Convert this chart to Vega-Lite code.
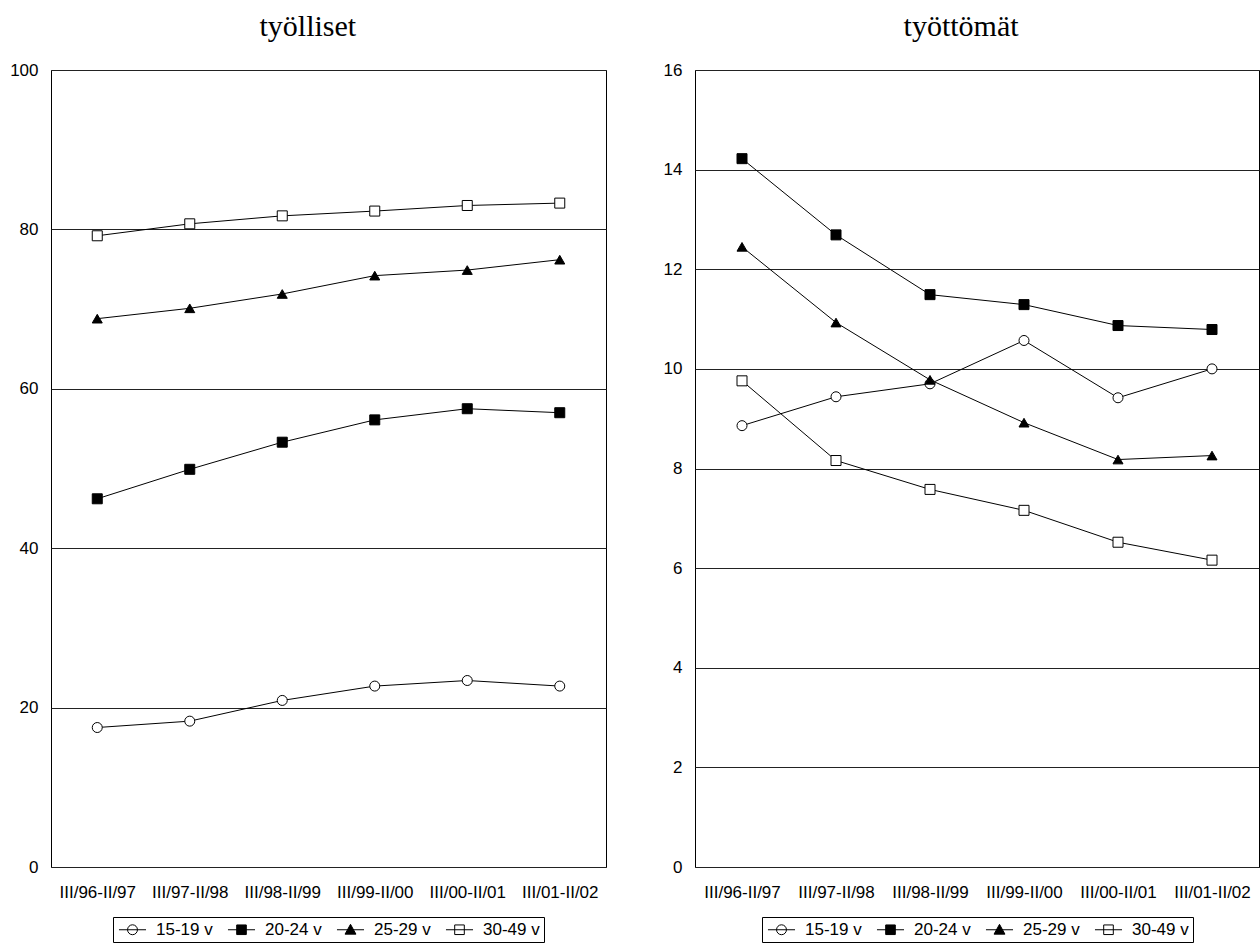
{
  "$schema": "https://vega.github.io/schema/vega-lite/v6.json",
  "padding": {"left": 9, "top": 11, "right": 1, "bottom": 4},
  "datasets": {
    "tyolliset": [
      {"period": "III/96-II/97", "series": "15-19 v", "value": 17.5},
      {"period": "III/97-II/98", "series": "15-19 v", "value": 18.3},
      {"period": "III/98-II/99", "series": "15-19 v", "value": 20.9},
      {"period": "III/99-II/00", "series": "15-19 v", "value": 22.7},
      {"period": "III/00-II/01", "series": "15-19 v", "value": 23.4},
      {"period": "III/01-II/02", "series": "15-19 v", "value": 22.7},
      {"period": "III/96-II/97", "series": "20-24 v", "value": 46.2},
      {"period": "III/97-II/98", "series": "20-24 v", "value": 49.9},
      {"period": "III/98-II/99", "series": "20-24 v", "value": 53.3},
      {"period": "III/99-II/00", "series": "20-24 v", "value": 56.1},
      {"period": "III/00-II/01", "series": "20-24 v", "value": 57.5},
      {"period": "III/01-II/02", "series": "20-24 v", "value": 57.0},
      {"period": "III/96-II/97", "series": "25-29 v", "value": 68.8},
      {"period": "III/97-II/98", "series": "25-29 v", "value": 70.1},
      {"period": "III/98-II/99", "series": "25-29 v", "value": 71.9},
      {"period": "III/99-II/00", "series": "25-29 v", "value": 74.2},
      {"period": "III/00-II/01", "series": "25-29 v", "value": 74.9},
      {"period": "III/01-II/02", "series": "25-29 v", "value": 76.2},
      {"period": "III/96-II/97", "series": "30-49 v", "value": 79.2},
      {"period": "III/97-II/98", "series": "30-49 v", "value": 80.7},
      {"period": "III/98-II/99", "series": "30-49 v", "value": 81.7},
      {"period": "III/99-II/00", "series": "30-49 v", "value": 82.3},
      {"period": "III/00-II/01", "series": "30-49 v", "value": 83.0},
      {"period": "III/01-II/02", "series": "30-49 v", "value": 83.3}
    ],
    "tyottomat": [
      {"period": "III/96-II/97", "series": "15-19 v", "value": 8.86},
      {"period": "III/97-II/98", "series": "15-19 v", "value": 9.44},
      {"period": "III/98-II/99", "series": "15-19 v", "value": 9.70},
      {"period": "III/99-II/00", "series": "15-19 v", "value": 10.57},
      {"period": "III/00-II/01", "series": "15-19 v", "value": 9.42},
      {"period": "III/01-II/02", "series": "15-19 v", "value": 10.0},
      {"period": "III/96-II/97", "series": "20-24 v", "value": 14.22},
      {"period": "III/97-II/98", "series": "20-24 v", "value": 12.69},
      {"period": "III/98-II/99", "series": "20-24 v", "value": 11.49},
      {"period": "III/99-II/00", "series": "20-24 v", "value": 11.29},
      {"period": "III/00-II/01", "series": "20-24 v", "value": 10.87},
      {"period": "III/01-II/02", "series": "20-24 v", "value": 10.79},
      {"period": "III/96-II/97", "series": "25-29 v", "value": 12.45},
      {"period": "III/97-II/98", "series": "25-29 v", "value": 10.93},
      {"period": "III/98-II/99", "series": "25-29 v", "value": 9.78},
      {"period": "III/99-II/00", "series": "25-29 v", "value": 8.92},
      {"period": "III/00-II/01", "series": "25-29 v", "value": 8.18},
      {"period": "III/01-II/02", "series": "25-29 v", "value": 8.26},
      {"period": "III/96-II/97", "series": "30-49 v", "value": 9.76},
      {"period": "III/97-II/98", "series": "30-49 v", "value": 8.16},
      {"period": "III/98-II/99", "series": "30-49 v", "value": 7.58},
      {"period": "III/99-II/00", "series": "30-49 v", "value": 7.16},
      {"period": "III/00-II/01", "series": "30-49 v", "value": 6.52},
      {"period": "III/01-II/02", "series": "30-49 v", "value": 6.16}
    ]
  },
  "hconcat": [
    {
      "title": {"text": "työlliset"},
      "width": 555,
      "height": 797,
      "data": {"name": "tyolliset"},
      "encoding": {
        "x": {"field": "period", "type": "nominal", "sort": null, "scale": {"type": "point", "padding": 0.5}, "axis": {"title": null}},
        "y": {"field": "value", "type": "quantitative", "scale": {"domain": [0, 100], "nice": false}, "axis": {"title": null, "values": [0, 20, 40, 60, 80, 100]}}
      },
      "layer": [
        {"mark": {"type": "line", "color": "black", "strokeWidth": 1}, "encoding": {"detail": {"field": "series"}}},
        {
          "mark": {"type": "point", "filled": true, "stroke": "black", "strokeWidth": 1, "size": 100, "opacity": 1},
          "encoding": {
            "shape": {"field": "series", "type": "nominal", "scale": {"range": ["circle", "square", "triangle-up", "square"]}, "legend": null},
            "fill": {"field": "series", "type": "nominal", "scale": {"domain": ["15-19 v", "20-24 v", "25-29 v", "30-49 v"], "range": ["white", "black", "black", "white"]},
              "legend": {"title": null, "encoding": {"symbols": {
                "shape": {"condition": [{"test": "datum.value === '15-19 v'", "value": "M-1.69,0H1.69M0.62,0A0.62,0.62 0 1,1 -0.62,0A0.62,0.62 0 1,1 0.62,0Z"}, {"test": "datum.value === '25-29 v'", "value": "M-1.69,0H1.69M0,-0.68L0.68,0.55H-0.68Z"}], "value": "M-1.69,0H1.69M-0.6,-0.6H0.6V0.6H-0.6Z"},
                "stroke": {"value": "black"}, "strokeWidth": {"value": 1}, "opacity": {"value": 1}}}}}
          }
        }
      ]
    },
    {
      "title": {"text": "työttömät"},
      "width": 564,
      "height": 797,
      "data": {"name": "tyottomat"},
      "encoding": {
        "x": {"field": "period", "type": "nominal", "sort": null, "scale": {"type": "point", "padding": 0.5}, "axis": {"title": null}},
        "y": {"field": "value", "type": "quantitative", "scale": {"domain": [0, 16], "nice": false}, "axis": {"title": null, "values": [0, 2, 4, 6, 8, 10, 12, 14, 16]}}
      },
      "layer": [
        {"mark": {"type": "line", "color": "black", "strokeWidth": 1}, "encoding": {"detail": {"field": "series"}}},
        {
          "mark": {"type": "point", "filled": true, "stroke": "black", "strokeWidth": 1, "size": 100, "opacity": 1},
          "encoding": {
            "shape": {"field": "series", "type": "nominal", "scale": {"range": ["circle", "square", "triangle-up", "square"]}, "legend": null},
            "fill": {"field": "series", "type": "nominal", "scale": {"domain": ["15-19 v", "20-24 v", "25-29 v", "30-49 v"], "range": ["white", "black", "black", "white"]},
              "legend": {"title": null, "encoding": {"symbols": {
                "shape": {"condition": [{"test": "datum.value === '15-19 v'", "value": "M-1.69,0H1.69M0.62,0A0.62,0.62 0 1,1 -0.62,0A0.62,0.62 0 1,1 0.62,0Z"}, {"test": "datum.value === '25-29 v'", "value": "M-1.69,0H1.69M0,-0.68L0.68,0.55H-0.68Z"}], "value": "M-1.69,0H1.69M-0.6,-0.6H0.6V0.6H-0.6Z"},
                "stroke": {"value": "black"}, "strokeWidth": {"value": 1}, "opacity": {"value": 1}}}}}
          }
        }
      ]
    }
  ],
  "spacing": 55,
  "resolve": {
    "scale": {"y": "independent", "shape": "independent", "fill": "independent"},
    "legend": {"shape": "independent", "fill": "independent"}
  },
  "config": {
    "background": "white",
    "view": {"stroke": "black", "strokeWidth": 1},
    "title": {"font": "Liberation Serif", "fontSize": 30, "fontWeight": "normal", "color": "black", "anchor": "middle", "frame": "bounds", "offset": 19},
    "axis": {"labelFont": "Liberation Sans", "labelFontSize": 17, "labelColor": "black", "ticks": false, "domain": false},
    "axisX": {"labelAngle": 0, "labelPadding": 17, "grid": false},
    "axisY": {"grid": true, "gridColor": "#222", "gridWidth": 1, "gridOpacity": 1, "labelPadding": 13},
    "legend": {
      "orient": "bottom",
      "direction": "horizontal",
      "layout": {"bottom": {"anchor": "middle"}},
      "strokeColor": "black",
      "padding": 4,
      "offset": 17,
      "labelFont": "Liberation Sans",
      "labelFontSize": 17,
      "labelColor": "black",
      "symbolSize": 256,
      "symbolOffset": 7,
      "symbolStrokeColor": "black",
      "symbolStrokeWidth": 1,
      "columnPadding": 12,
      "labelOffset": 15
    }
  }
}
